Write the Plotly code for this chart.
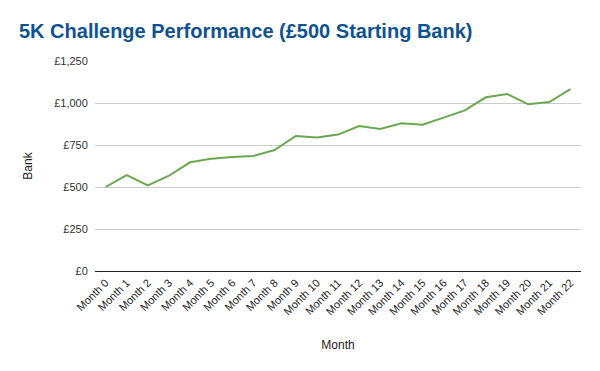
import plotly.graph_objects as go

months = [f"Month {i}" for i in range(23)]
bank = [500, 571, 510, 567, 647, 668, 679, 685, 720, 804, 794, 812,
        863, 845, 879, 871, 913, 956, 1034, 1054, 992, 1006, 1083]
y_ticks = [0, 250, 500, 750, 1000, 1250]
y_tick_labels = ["£0", "£250", "£500", "£750", "£1,000", "£1,250"]

W, H = 592, 363  # page body has an 8px offset

fig = go.Figure()
fig.add_trace(go.Scatter(
    x=months, y=bank, mode="lines",
    line=dict(color="#6aa84f", width=2),
    hoverinfo="x+y",
))

fig.update_layout(
    width=W, height=H,
    margin=dict(l=87, r=19, t=53, b=100),
    paper_bgcolor="white", plot_bgcolor="white",
    font=dict(family="Liberation Sans, Arial, sans-serif", size=11, color="#222222"),
    title=dict(
        text="<b>5K Challenge Performance (£500 Starting Bank)</b>",
        x=11 / W, xanchor="left", y=1 - 23 / H, yanchor="middle",
        font=dict(size=20, color="#0f5292", family="Liberation Sans, Arial, sans-serif"),
    ),
    showlegend=False,
    xaxis=dict(
        title=dict(text="Month", font=dict(size=12, color="#222222"), standoff=24),
        tickangle=-45, tickfont=dict(size=11, color="#222222"),
        showgrid=False, showline=True, linecolor="#222222", linewidth=1,
        ticks="", range=[-0.5, 22.5], automargin=False,
    ),
    yaxis=dict(
        title=dict(text="Bank", font=dict(size=12, color="#222222"), standoff=18),
        range=[0, 1250], tickvals=y_ticks, ticktext=y_tick_labels,
        showgrid=True, gridcolor="#cccccc", gridwidth=1,
        zeroline=False,
        tickfont=dict(size=11, color="#333333"),
        ticks="outside", ticklen=4, tickcolor="rgba(0,0,0,0)", automargin=False,
    ),
)

fig.write_html("out.html")
